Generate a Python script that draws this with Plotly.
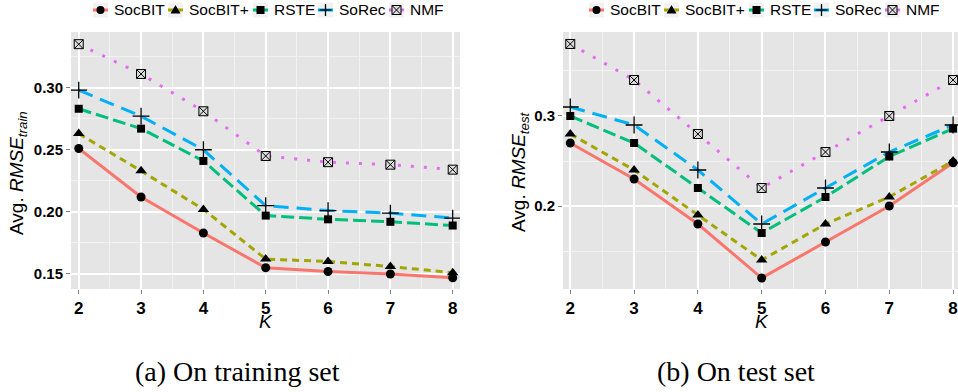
import plotly.graph_objects as go

# ---------------- data ----------------
K = [2, 3, 4, 5, 6, 7, 8]
series_names = ["SocBIT", "SocBIT+", "RSTE", "SoRec", "NMF"]

train_socbit = [0.251, 0.212, 0.183, 0.155, 0.152, 0.150, 0.147]
train_socbitp = [0.263, 0.233, 0.202, 0.162, 0.160, 0.156, 0.151]
train_rste = [0.283, 0.267, 0.241, 0.197, 0.194, 0.192, 0.189]
train_sorec = [0.298, 0.277, 0.250, 0.205, 0.201, 0.199, 0.195]
train_nmf = [0.335, 0.311, 0.281, 0.245, 0.240, 0.238, 0.234]

test_socbit = [0.270, 0.230, 0.180, 0.120, 0.160, 0.200, 0.248]
test_socbitp = [0.280, 0.240, 0.190, 0.140, 0.180, 0.210, 0.250]
test_rste = [0.300, 0.270, 0.220, 0.170, 0.210, 0.255, 0.286]
test_sorec = [0.310, 0.290, 0.240, 0.180, 0.220, 0.260, 0.290]
test_nmf = [0.380, 0.340, 0.280, 0.220, 0.260, 0.300, 0.340]

train_tick_vals = [0.15, 0.20, 0.25, 0.30]
test_tick_vals = [0.2, 0.3]

train_series = [train_socbit, train_socbitp, train_rste, train_sorec, train_nmf]
test_series = [test_socbit, test_socbitp, test_rste, test_sorec, test_nmf]

# ---------------- styles ----------------
W, H = 958, 392
colors = ["#F8766D", "#A3A500", "#00BF7D", "#00B0F6", "#E76BF3"]
dashes = ["solid", "7px,5px", "13px,5px", "15px,8px", "3px,10px"]
markers = [
    dict(symbol="circle", size=9, color="black"),
    dict(symbol="triangle-up", size=10, color="black"),
    dict(symbol="square", size=8, color="black"),
    dict(symbol="cross-thin", size=12, color="black", line=dict(color="black", width=1.3)),
    dict(symbol="square-x", size=9, color="#DCDCDC", line=dict(color="black", width=1)),
]


def px(x):
    return x / W


def py(y):
    return 1 - y / H


fig = go.Figure()

panels = [("x", "y", train_series), ("x2", "y2", test_series)]
for xa, ya, data in panels:
    for name, vals, c, d in zip(series_names, data, colors, dashes):
        fig.add_trace(go.Scatter(x=K, y=vals, mode="lines", name=name, showlegend=False,
                                 line=dict(color=c, width=3, dash=d), xaxis=xa, yaxis=ya,
                                 hoverinfo="skip"))
    for name, vals, m in zip(series_names, data, markers):
        fig.add_trace(go.Scatter(x=K, y=vals, mode="markers", name=name, showlegend=False,
                                 marker=m, xaxis=xa, yaxis=ya))

ydom = [py(289), py(32)]
tick_font_x = dict(family="Liberation Sans, Arial", size=17, color="black", weight="bold")
tick_font_y = dict(family="Liberation Sans, Arial", size=15, color="black", weight="bold")
common = dict(showgrid=True, gridcolor="white", gridwidth=1.5, zeroline=False, showline=False,
              ticks="outside", ticklen=4, tickcolor="#7F7F7F", tickwidth=1, automargin=False)
minor_x = dict(tick0=0.5, dtick=1, showgrid=True, gridcolor="#F2F2F2", gridwidth=0.8)

fig.update_layout(
    width=W, height=H,
    margin=dict(l=0, r=0, t=0, b=0, pad=0),
    paper_bgcolor="white",
    plot_bgcolor="#E5E5E5",
    showlegend=False,
    xaxis=dict(domain=[px(71), px(460)], range=[1.876, 8.117], tickvals=K,
               tickfont=tick_font_x, anchor="y", minor=minor_x, **common),
    yaxis=dict(domain=ydom, range=[0.1379, 0.3448], tickvals=train_tick_vals,
               tickformat=".2f", tickfont=tick_font_y, anchor="x",
               minor=dict(tick0=0.175, dtick=0.05, showgrid=True, gridcolor="#F2F2F2", gridwidth=0.8),
               **common),
    xaxis2=dict(domain=[px(563), 1.0], range=[1.886, 8.077], tickvals=K,
                tickfont=tick_font_x, anchor="y2", minor=minor_x, **common),
    yaxis2=dict(domain=ydom, range=[0.1078, 0.3933], tickvals=test_tick_vals,
                tickformat=".1f", tickfont=tick_font_y, anchor="x2",
                minor=dict(tick0=0.15, dtick=0.1, showgrid=True, gridcolor="#F2F2F2", gridwidth=0.8),
                **common),
)

annotations = []
shapes = []

# axis titles and captions
sans = "Liberation Sans, Arial"
for cx, cy, sub in [(18, 173, "train"), (520, 172, "test")]:
    annotations.append(dict(x=px(cx), y=py(cy), xref="paper", yref="paper",
                            text="Avg. <i>RMSE<sub>%s</sub></i>" % sub, textangle=-90,
                            showarrow=False, xanchor="center", yanchor="middle",
                            font=dict(family=sans, size=19, color="black")))
for cx in [265.5, 761.5]:
    annotations.append(dict(x=px(cx), y=py(321), xref="paper", yref="paper",
                            text="<i>K</i>", showarrow=False, xanchor="center", yanchor="middle",
                            font=dict(family=sans, size=19, color="black")))
for cx, cap in [(237, "(a) On training set"), (736, "(b) On test set")]:
    annotations.append(dict(x=px(cx), y=py(371), xref="paper", yref="paper",
                            text=cap, showarrow=False, xanchor="center", yanchor="middle",
                            font=dict(family="Liberation Serif, Times New Roman", size=28, color="black")))

# custom legends (one above each panel)
key_left = [93, 168, 253, 318, 389]
text_gap = 19
legend_offsets = [0, 496]
ky = 10
for off in legend_offsets:
    for i, name in enumerate(series_names):
        x0 = key_left[i] + off
        cx = x0 + 7.5
        shapes.append(dict(type="rect", xref="paper", yref="paper", x0=px(x0), x1=px(x0 + 15),
                           y0=py(ky + 7.5), y1=py(ky - 7.5), fillcolor="#F2F2F2", line=dict(width=0)))
        shapes.append(dict(type="line", xref="paper", yref="paper", x0=px(x0), x1=px(x0 + 15),
                           y0=py(ky), y1=py(ky), line=dict(color=colors[i], width=3)))
        if i == 0:
            shapes.append(dict(type="circle", xref="paper", yref="paper", x0=px(cx - 4), x1=px(cx + 4),
                               y0=py(ky + 4), y1=py(ky - 4), fillcolor="black", line=dict(width=0)))
        elif i == 1:
            path = "M %f,%f L %f,%f L %f,%f Z" % (px(cx - 5), py(ky + 3.5), px(cx + 5), py(ky + 3.5),
                                                  px(cx), py(ky - 5))
            shapes.append(dict(type="path", xref="paper", yref="paper", path=path,
                               fillcolor="black", line=dict(width=0)))
        elif i == 2:
            shapes.append(dict(type="rect", xref="paper", yref="paper", x0=px(cx - 4), x1=px(cx + 4),
                               y0=py(ky + 4), y1=py(ky - 4), fillcolor="black", line=dict(width=0)))
        elif i == 3:
            shapes.append(dict(type="line", xref="paper", yref="paper", x0=px(cx - 6), x1=px(cx + 6),
                               y0=py(ky), y1=py(ky), line=dict(color="black", width=1.3)))
            shapes.append(dict(type="line", xref="paper", yref="paper", x0=px(cx), x1=px(cx),
                               y0=py(ky + 6), y1=py(ky - 6), line=dict(color="black", width=1.3)))
        else:
            shapes.append(dict(type="rect", xref="paper", yref="paper", x0=px(cx - 4.5), x1=px(cx + 4.5),
                               y0=py(ky + 4.5), y1=py(ky - 4.5), fillcolor="#DCDCDC",
                               line=dict(color="black", width=1)))
            shapes.append(dict(type="line", xref="paper", yref="paper", x0=px(cx - 4.5), x1=px(cx + 4.5),
                               y0=py(ky + 4.5), y1=py(ky - 4.5), line=dict(color="black", width=1)))
            shapes.append(dict(type="line", xref="paper", yref="paper", x0=px(cx - 4.5), x1=px(cx + 4.5),
                               y0=py(ky - 4.5), y1=py(ky + 4.5), line=dict(color="black", width=1)))
        annotations.append(dict(x=px(x0 + text_gap), y=py(ky), xref="paper", yref="paper",
                                text=name, showarrow=False, xanchor="left", yanchor="middle",
                                font=dict(family=sans, size=15.5, color="black")))

fig.update_layout(annotations=annotations, shapes=shapes)
fig.write_html("out.html", config={"displayModeBar": False},
               post_script="document.body.style.margin='0px';document.body.style.overflow='hidden';")
